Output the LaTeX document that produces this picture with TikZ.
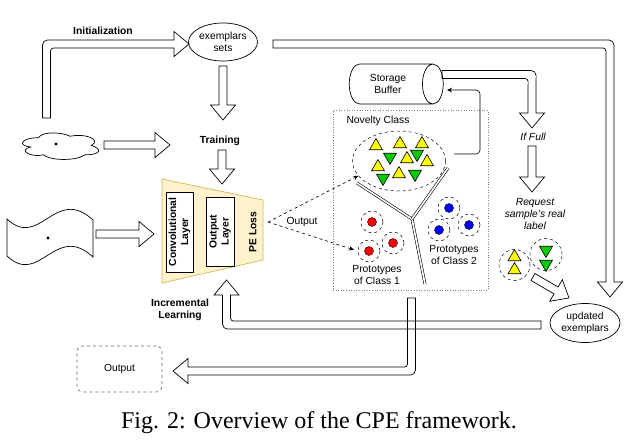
\documentclass[tikz,border=0pt]{standalone}
\usepackage{fontspec}
\setmainfont{Liberation Sans}
\newfontfamily\capfont{Liberation Serif}
\usetikzlibrary{shapes.geometric,arrows.meta,calc}
\definecolor{netfill}{HTML}{FFF2CC}
\definecolor{netline}{HTML}{D6B656}
\definecolor{tyellow}{HTML}{FFFF00}
\definecolor{tgreen}{HTML}{00CC00}
\newcommand\fatarrow[2]{%
    \coordinate (fh) at ($(#2)!15pt!(#1)$);
    \draw ($(#1)!4pt!90:(#2)$) -- ($(fh)!4pt!90:(#2)$) -- ($(fh)!12.5pt!90:(#2)$) -- (#2)
        -- ($(fh)!12.5pt!-90:(#2)$) -- ($(fh)!4pt!-90:(#2)$) -- ($(#1)!4pt!-90:(#2)$) -- cycle;
}
\newcommand\fatbend[3]{%
    \coordinate (fh) at ($(#3)!15pt!(#2)$);
    \coordinate (fl1) at ($(#1)!4pt!90:(#2)$);
    \coordinate (fl2) at ($(#2)!4pt!-90:(#1)$);
    \coordinate (fl3) at ($(#2)!4pt!90:(#3)$);
    \coordinate (fl4) at ($(fh)!4pt!90:(#3)$);
    \coordinate (fr1) at ($(#1)!4pt!-90:(#2)$);
    \coordinate (fr2) at ($(#2)!4pt!90:(#1)$);
    \coordinate (fr3) at ($(#2)!4pt!-90:(#3)$);
    \coordinate (fr4) at ($(fh)!4pt!-90:(#3)$);
    \draw (fl1) [rounded corners=5pt] -- (intersection of fl1--fl2 and fl3--fl4) [sharp corners]
        -- (fl4) -- ($(fh)!12.5pt!90:(#3)$) -- (#3) -- ($(fh)!12.5pt!-90:(#3)$) -- (fr4)
        [rounded corners=3pt] -- (intersection of fr1--fr2 and fr3--fr4) [sharp corners] -- (fr1) -- cycle;
}
\tikzset{
    link/.style={line width=0.6pt, -{Stealth[length=5pt,width=4.5pt]}},
    bold/.style={font=\fontsize{10.3}{12}\selectfont\bfseries, align=center},
    plain/.style={align=center},
    slant/.style={font=\fontsize{10.3}{12}\selectfont\itshape, align=center},
    dcirc/.style={circle, draw, dashed, line width=0.5pt, minimum size=22pt, inner sep=0},
    dot/.style={circle, draw, line width=0.4pt, minimum size=9pt, inner sep=0},
    tri/.style={regular polygon, regular polygon sides=3, draw, line width=0.6pt,
        minimum size=15pt, inner sep=0},
    trup/.style={tri, fill=tyellow},
    trdown/.style={tri, fill=tgreen, shape border rotate=180},
}
\begin{document}
\begin{tikzpicture}[x=1pt, y=-1pt, line width=0.7pt, font=\fontsize{10.3}{12}\selectfont]
    \useasboundingbox (0,0) rectangle (637,442);

    \node[ellipse, draw, minimum width=69pt, minimum height=38pt, inner sep=0, plain] (exemplars) at (223,42) {exemplars\\sets};
    \node[bold] (init) at (103,31) {Initialization};
    \begin{scope}[shift={(17,130)}, x=85pt, y=-31pt]
        \draw (0.25,0.25) .. controls (0.05,0.25) and (0,0.5) .. (0.16,0.55)
            .. controls (0,0.66) and (0.18,0.9) .. (0.31,0.8)
            .. controls (0.4,1) and (0.7,1) .. (0.8,0.8)
            .. controls (1,0.8) and (1,0.6) .. (0.875,0.5)
            .. controls (1,0.3) and (0.8,0.1) .. (0.625,0.2)
            .. controls (0.5,0.05) and (0.3,0.05) .. cycle;
    \end{scope}
    \node[circle, fill, inner sep=1.2pt] (clouddot) at (56,144) {};
    \node[bold] (training) at (220,141) {Training};

    \draw (7,219) .. controls (40,250) and (55,185) .. (93,220) -- (93,257)
        .. controls (55,222) and (40,287) .. (7,256) -- cycle;
    \node[circle, fill, inner sep=1.2pt] (wavedot) at (48,238) {};

    \draw[fill=netfill, draw=netline] (162,179) -- (263,200) -- (263,260) -- (162,283) -- cycle;
    \node[draw, fill=white, rotate=90, minimum width=80pt, minimum height=27pt, inner sep=1pt, bold] (conv) at (179.5,232) {Convolutional\\Layer};
    \node[draw, fill=white, rotate=90, minimum width=69pt, minimum height=28pt, inner sep=1pt, bold] (outl) at (220,231.5) {Output\\Layer};
    \node[rotate=90, bold] (peloss) at (253,232) {PE Loss};

    \node[cylinder, draw, minimum width=40pt, minimum height=94pt, aspect=0.8, plain] (buffer) at (388,84) {Storage\\Buffer};
    \node[draw=gray, dotted, line width=0.6pt, minimum width=155pt, minimum height=180pt] (region) at (410.5,200) {};
    \node[plain] (novtxt) at (378,121) {Novelty Class};
    \node[ellipse, draw, dashed, line width=0.5pt, minimum width=93pt, minimum height=60pt] (novelty) at (399,161) {};
    \foreach \x/\y [count=\i] in {376/146, 400/144, 422/144, 407/159, 427/162, 378/167, 399/174} {
        \node[trup] (ny\i) at (\x,\y) {};
    }
    \foreach \x/\y [count=\i] in {390/157, 417/154, 383/178, 415/174} {
        \node[trdown] (ng\i) at (\x,\y) {};
    }

    \draw[double, double distance=1.6pt, line width=0.6pt] (357,183) -- (412,219) -- (425,284);
    \draw[double, double distance=1.6pt, line width=0.6pt] (448,168) -- (412,219);

    \foreach \x/\y/\c/\name in {
        372/222/red/r1, 393/243/red/r2, 369/251/red/r3,
        449/208/blue/b1, 439/230/blue/b2, 469/225/blue/b3
     } {
        \node[dcirc] (\name) at (\x,\y) {};
        \node[dot, fill=\c] (\name dot) at (\x,\y) {};
    }
    \node[plain] (proto1) at (377,275.5) {Prototypes\\of Class 1};
    \node[plain] (proto2) at (454,255.5) {Prototypes\\of Class 2};

    \node[slant] (iffull) at (533,137) {If Full};
    \node[slant] (request) at (535,214.5) {Request\\sample's real\\label};
    \node[dcirc, minimum size=31pt] (pairA) at (514.5,265) {};
    \node[dcirc, minimum size=32pt] (pairB) at (546,254.5) {};
    \node[trup] (pa1) at (514.5,257) {};
    \node[trup] (pa2) at (514.5,270) {};
    \node[trdown] (pb1) at (546,250) {};
    \node[trdown] (pb2) at (546,264) {};
    \node[ellipse, draw, minimum width=70pt, minimum height=39pt, inner sep=0, plain] (updated) at (585,323) {updated\\exemplars};

    \node[bold] (incr) at (180,310) {Incremental\\Learning};
    \node[draw=gray!80!black, dashed, line width=0.6pt, rounded corners=6pt, minimum width=85pt, minimum height=46pt] (output) at (119.5,369) {Output};
    \node[plain] (outtxt) at (302,222) {Output};

    \coordinate (initStart) at (46.5,118);
    \coordinate (initTip) at (189,44);
    \coordinate (trainIn) at (223,66);
    \coordinate (trainTop) at (223,120);
    \coordinate (cloudOut) at (104,145);
    \coordinate (trainLeft) at (170,145);
    \coordinate (netIn) at (222,150);
    \coordinate (netTop) at (222,184);
    \coordinate (waveR) at (96,234);
    \coordinate (netLeft) at (154,234);
    \coordinate (exOut) at (273,44);
    \coordinate (updTop) at (610,297);
    \coordinate (bufOut) at (442,74.5);
    \coordinate (ifTop) at (532,128);
    \coordinate (ifOut) at (532,146);
    \coordinate (reqTop) at (532,192);
    \coordinate (pairOut) at (533,277);
    \coordinate (updIn) at (569,298);
    \coordinate (updOut) at (541,325);
    \coordinate (netBot) at (226.5,280);
    \coordinate (regOut) at (411.5,298);
    \coordinate (outTip) at (173,371);
    \coordinate (peOut) at (268,222);
    \coordinate (fbStart) at (454,154);
    \coordinate (bufIn) at (447,90);

    \fatbend{initStart}{initStart |- initTip}{initTip}
    \fatarrow{trainIn}{trainTop}
    \fatarrow{cloudOut}{trainLeft}
    \fatarrow{netIn}{netTop}
    \fatarrow{waveR}{netLeft}
    \fatbend{exOut}{exOut -| updTop}{updTop}
    \fatbend{bufOut}{bufOut -| ifTop}{ifTop}
    \fatarrow{ifOut}{reqTop}
    \fatarrow{pairOut}{updIn}
    \fatbend{updOut}{updOut -| netBot}{netBot}
    \fatbend{regOut}{regOut |- outTip}{outTip}

    \draw[link, dashed] (peOut) -- (novelty.200);
    \draw[link, dashed, shorten >=4pt] (peOut) -- (r3.west);
    \draw[link, rounded corners=4pt] (fbStart) -- (480,154) -- (480,90) -- (bufIn);

    \node[font=\capfont\fontsize{24}{28}\selectfont, anchor=base] (caption) at (319,428) {Fig. 2: Overview of the CPE framework.};
\end{tikzpicture}
\end{document}
